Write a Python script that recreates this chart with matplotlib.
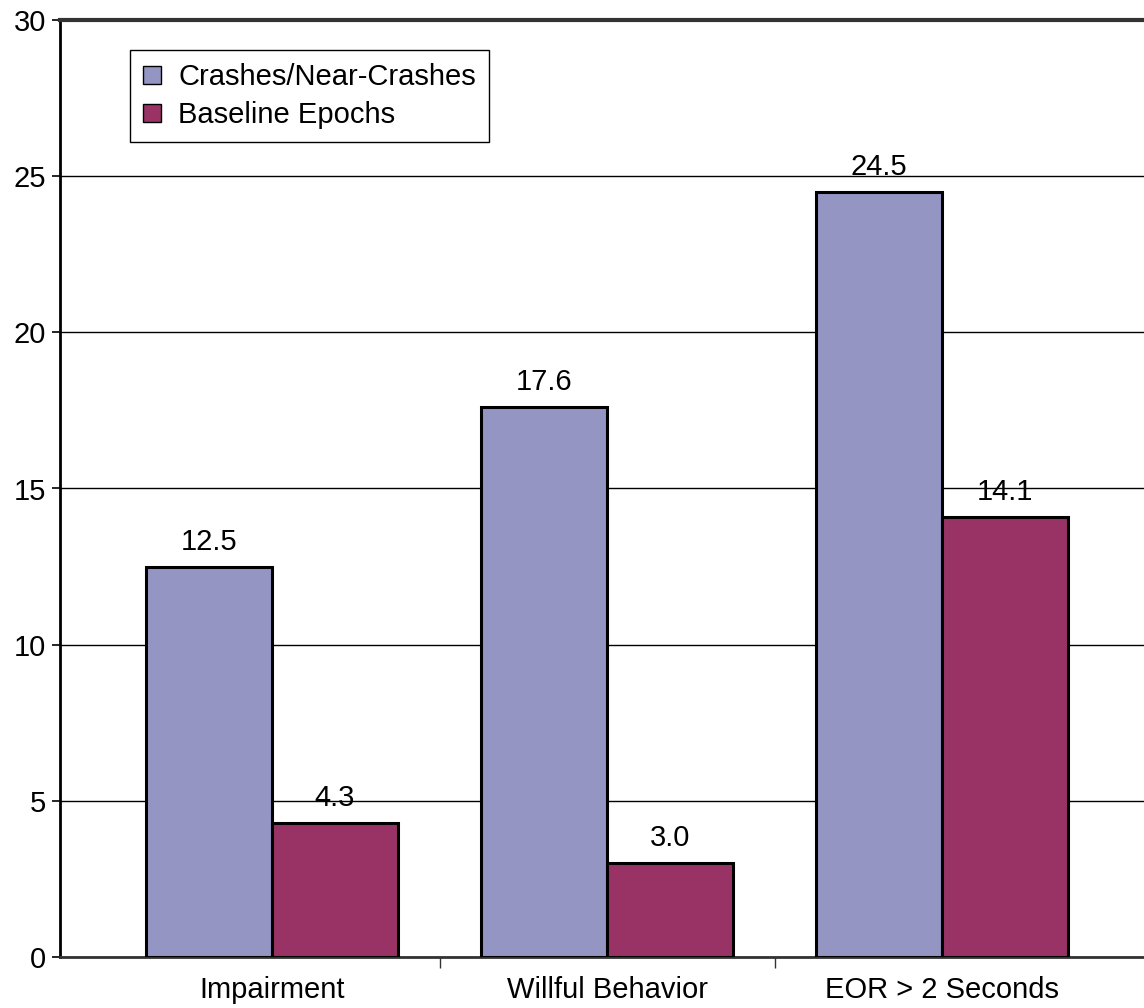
import matplotlib.pyplot as plt
import numpy as np

plt.rcParams['font.family'] = ['Liberation Sans', 'DejaVu Sans']

categories = ['Impairment', 'Willful Behavior', 'EOR > 2 Seconds']
crashes = [12.5, 17.6, 24.5]
baseline = [4.3, 3.0, 14.1]
series_names = ['Crashes/Near-Crashes', 'Baseline Epochs']

fig = plt.figure(figsize=(11.44, 10.08), dpi=100)
ax = fig.add_axes([60 / 1144, 51 / 1008, 1 - 60 / 1144, 937 / 1008])

x = np.arange(len(categories))
w = 0.376
b1 = ax.bar(x - w / 2, crashes, w, color='#9595C4', edgecolor='black', linewidth=2.2,
            label=series_names[0], zorder=3)
b2 = ax.bar(x + w / 2, baseline, w, color='#993366', edgecolor='black', linewidth=2.2,
            label=series_names[1], zorder=3)

for bars, vals in ((b1, crashes), (b2, baseline)):
    for r, v in zip(bars, vals):
        ax.text(r.get_x() + r.get_width() / 2, v + 0.35, f'{v:.1f}',
                ha='center', va='bottom', fontsize=21, zorder=4)

ax.set_ylim(0, 30)
ax.set_xlim(-0.633, 2.603)
ax.set_yticks(range(0, 31, 5))
ax.yaxis.grid(True, color='black', linewidth=1)
ax.set_axisbelow(True)

ax.set_xticks(x)
ax.set_xticklabels(categories, fontsize=21)
ax.tick_params(axis='x', length=0, pad=14)
ax.set_xticks([0.5, 1.5], minor=True)
ax.tick_params(axis='x', which='minor', length=8, width=1, color='#333333')
ax.tick_params(axis='y', labelsize=21, length=6, width=1.2, pad=4)

for s in ('top', 'right'):
    ax.spines[s].set_visible(False)
ax.spines['left'].set_linewidth(2)
ax.spines['bottom'].set_linewidth(2)
ax.spines['bottom'].set_color('#333333')
ax.axhline(30, color='#333333', linewidth=3, zorder=5, clip_on=False)

leg = ax.legend(loc='upper left', bbox_to_anchor=(70 / 1084, 1 - 30 / 937),
                fontsize=21, frameon=True, fancybox=False, handlelength=0.6,
                handleheight=0.6, handletextpad=0.6, borderpad=0.45,
                borderaxespad=0, labelspacing=0.35, edgecolor='black',
                framealpha=1)
leg.get_frame().set_linewidth(1)
for h in leg.legend_handles:
    h.set_linewidth(1)

fig.savefig('out.png', dpi=100)
